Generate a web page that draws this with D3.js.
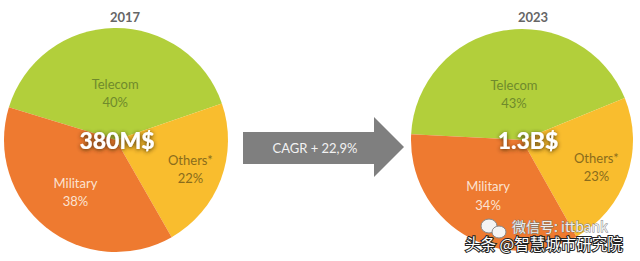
<!DOCTYPE html>
<html>
<head>
<meta charset="utf-8">
<script src="https://cdn.jsdelivr.net/npm/d3@7"></script>
<style>
  html, body { margin: 0; padding: 0; background: #fff; }
  svg { display: block; font-family: Lato, "Open Sans", sans-serif; }
</style>
</head>
<body>
<svg width="640" height="261"></svg>
<script>
// chart values
var years = ["2017", "2023"];
var segments = ["Telecom", "Others*", "Military"];
var share2017 = [40, 22, 38];
var share2023 = [43, 23, 34];
var totals = ["380M$", "1.3B$"];
var cagrLabel = "CAGR + 22,9%";

var svg = d3.select("svg"),
    width = +svg.attr("width"),
    height = +svg.attr("height");

var color = d3.scaleOrdinal()
    .domain(segments)
    .range(["#b2cf3b", "#f9bd2e", "#ee7a30"]);
var labelColor = d3.scaleOrdinal()
    .domain(segments)
    .range(["#6f8a2c", "#8a6c1c", "#fbe3d2"]);
// how far out the label sits, as a share of the radius
var labelRadius = d3.scaleOrdinal()
    .domain(segments)
    .range([0.43, 0.71, 0.58]);

var pies = [
  { year: years[0], values: share2017, total: totals[0], cx: 116, cy: 140, r: 112, start: -73 },
  { year: years[1], values: share2023, total: totals[1], cx: 522, cy: 140, r: 111, start: -87 }
];

var defs = svg.append("defs");
var glow = defs.append("filter")
    .attr("id", "glow")
    .attr("x", "-30%").attr("y", "-60%")
    .attr("width", "160%").attr("height", "220%");
glow.append("feDropShadow")
    .attr("dx", 0).attr("dy", 1)
    .attr("stdDeviation", 2.2)
    .attr("flood-color", "#3a2a10")
    .attr("flood-opacity", 0.9);

pies.forEach(function(p) {
  var rows = segments.map(function(s, i) { return { name: s, value: p.values[i] }; });
  var start = p.start * Math.PI / 180;
  var pie = d3.pie()
      .sort(null)
      .value(function(d) { return d.value; })
      .startAngle(start)
      .endAngle(start + 2 * Math.PI);
  var arc = d3.arc().innerRadius(0).outerRadius(p.r);

  var g = svg.append("g")
      .attr("transform", "translate(" + p.cx + "," + p.cy + ")");

  var arcs = pie(rows);

  g.selectAll("path")
    .data(arcs)
    .enter().append("path")
      .attr("d", arc)
      .attr("fill", function(d) { return color(d.data.name); });

  var lab = g.selectAll("text.seg")
    .data(arcs)
    .enter().append("text")
      .attr("class", "seg")
      .attr("text-anchor", "middle")
      .attr("fill", function(d) { return labelColor(d.data.name); })
      .attr("font-size", 13)
      .attr("transform", function(d) {
        var rr = p.r * labelRadius(d.data.name);
        var a = (d.startAngle + d.endAngle) / 2;
        return "translate(" + (Math.sin(a) * rr) + "," + (-Math.cos(a) * rr) + ")";
      });
  lab.append("tspan")
      .attr("x", 0).attr("dy", "-0.25em")
      .text(function(d) { return d.data.name; });
  lab.append("tspan")
      .attr("x", 0).attr("dy", "1.4em")
      .text(function(d) { return d.data.value + "%"; });

  g.append("text")
      .attr("text-anchor", "middle")
      .attr("x", p === pies[1] ? 6 : 1)
      .attr("y", 9)
      .attr("fill", "#fff")
      .attr("font-size", 23)
      .attr("font-weight", 900)
      .attr("filter", "url(#glow)")
      .text(p.total);

  svg.append("text")
      .attr("x", p.cx + (p === pies[1] ? 11 : 9))
      .attr("y", 22)
      .attr("text-anchor", "middle")
      .attr("fill", "#666")
      .attr("font-size", 13)
      .attr("font-weight", "bold")
      .text(p.year);
});

// arrow between the pies
var arrowPts = [[243, 132], [374, 132], [374, 117], [404, 147], [374, 177], [374, 164], [243, 164]];
svg.append("path")
    .attr("d", d3.line()(arrowPts) + "Z")
    .attr("fill", "#7f7f7f");
svg.append("text")
    .attr("x", 315).attr("y", 152.5)
    .attr("text-anchor", "middle")
    .attr("fill", "#f2f2f2")
    .attr("font-size", 13)
    .text(cagrLabel);

// watermark
var wm = svg.append("g");
wm.append("ellipse").attr("cx", 489).attr("cy", 226).attr("rx", 8).attr("ry", 7)
    .attr("fill", "#f4f4f4").attr("stroke", "#888").attr("stroke-width", 1);
wm.append("ellipse").attr("cx", 499).attr("cy", 232).attr("rx", 7).attr("ry", 6)
    .attr("fill", "#f4f4f4").attr("stroke", "#888").attr("stroke-width", 1);
wm.append("text")
    .attr("x", 512).attr("y", 232)
    .attr("fill", "#eee").attr("stroke", "#777").attr("stroke-width", 0.8)
    .attr("paint-order", "stroke")
    .attr("font-family", "'Noto Sans CJK SC', sans-serif")
    .attr("font-size", 14)
    .text("微信号: ittbank");
wm.append("text")
    .attr("x", 465).attr("y", 250)
    .attr("fill", "#fff").attr("stroke", "#222").attr("stroke-width", 2)
    .attr("paint-order", "stroke")
    .attr("font-family", "'Noto Sans CJK SC', sans-serif")
    .attr("font-size", 15.5)
    .text("头条 @智慧城市研究院");
</script>
</body>
</html>
